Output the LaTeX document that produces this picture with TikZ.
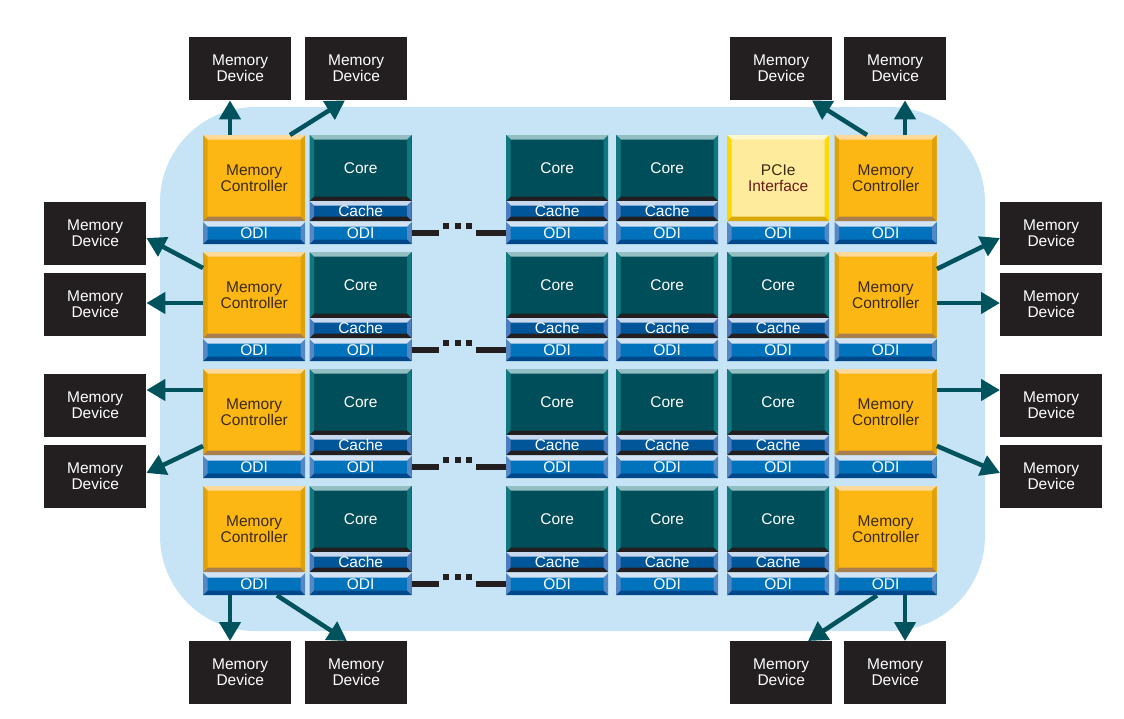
\documentclass[tikz,border=0pt]{standalone}
\usepackage{fontspec}
\setmainfont{Liberation Sans}
\usetikzlibrary{arrows.meta,positioning,calc}

\definecolor{bgBlue}{HTML}{C6E4F5}
\definecolor{devFill}{HTML}{231F20}
\definecolor{linkC}{HTML}{00535C}
\definecolor{mcFace}{HTML}{FDB714}
\definecolor{mcTop}{HTML}{FDD99B}
\definecolor{mcSide}{HTML}{DDA20B}
\definecolor{mcBot}{HTML}{A97F50}
\definecolor{mcText}{HTML}{3B2A14}
\definecolor{coreFace}{HTML}{004E59}
\definecolor{coreTop}{HTML}{93BEC2}
\definecolor{coreSide}{HTML}{127880}
\definecolor{cacheFace}{HTML}{005699}
\definecolor{cacheTop}{HTML}{C8D8EE}
\definecolor{cacheSide}{HTML}{4A7CBF}
\definecolor{odiFace}{HTML}{0073BC}
\definecolor{odiTop}{HTML}{D3E3F4}
\definecolor{odiSide}{HTML}{5687C5}
\definecolor{odiBot}{HTML}{00488A}
\definecolor{pcieFace}{HTML}{FEEB9B}
\definecolor{pcieTop}{HTML}{FFF7CC}
\definecolor{pcieSide}{HTML}{FFD700}
\definecolor{pcieBot}{HTML}{D9A90C}
\definecolor{pcieRed}{HTML}{6B1A1A}

\def\bevw{4.5pt}

\begin{document}
\begin{tikzpicture}[
    x=1pt, y=-1pt,
    every node/.style={font=\fontsize{15.5}{16}\selectfont},
    bevel/.style n args={5}{anchor=north west, inner sep=0pt, align=center, fill=#1,
        path picture={
            \def\pp{path picture bounding box}
            \fill[#2] (\pp.north west) -- (\pp.north east) -- ([xshift=-\bevw,yshift=-\bevw]\pp.north east) -- ([xshift=\bevw,yshift=-\bevw]\pp.north west) -- cycle;
            \fill[#3] (\pp.north west) -- (\pp.south west) -- ([xshift=\bevw,yshift=\bevw]\pp.south west) -- ([xshift=\bevw,yshift=-\bevw]\pp.north west) -- cycle;
            \fill[#4] (\pp.north east) -- (\pp.south east) -- ([xshift=-\bevw,yshift=\bevw]\pp.south east) -- ([xshift=-\bevw,yshift=-\bevw]\pp.north east) -- cycle;
            \fill[#5] (\pp.south west) -- (\pp.south east) -- ([xshift=-\bevw,yshift=\bevw]\pp.south east) -- ([xshift=\bevw,yshift=\bevw]\pp.south west) -- cycle;
        }},
    mcbox/.style={bevel={mcFace}{mcTop}{mcSide}{mcSide}{mcBot}, minimum width=102pt, minimum height=86pt, text=mcText},
    pciebox/.style={bevel={pcieFace}{pcieTop}{pcieSide}{pcieSide}{pcieBot}, minimum width=102pt, minimum height=86pt, text=mcText},
    corebox/.style={bevel={coreFace}{coreTop}{coreSide}{coreSide}{devFill}, minimum width=102pt, minimum height=66pt, text=white},
    cachebox/.style={bevel={cacheFace}{cacheTop}{cacheSide}{cacheSide}{devFill}, minimum width=102pt, minimum height=20pt, text=white},
    odibox/.style={bevel={odiFace}{odiTop}{odiSide}{odiSide}{odiBot}, minimum width=102pt, minimum height=22pt, text=white},
    dev/.style={anchor=north west, fill=devFill, text=white, align=center, inner sep=0pt, minimum width=102pt, minimum height=63pt},
    link/.style={draw=linkC, line width=4.5pt, -{Triangle[width=21pt,length=19pt]}},
    bar/.style={draw=devFill, line width=6pt},
]
\useasboundingbox (0,0) rectangle (1124,718);

% Chip outline
\fill[bgBlue, rounded corners=95pt] (160,107) rectangle (985,631);

% Tile rows
\foreach \r/\t in {1/135,2/252,3/369,4/486} {
    % memory controllers
    \node[mcbox] (t\r1) at (203,\t) {Memory\\Controller};
    \node[mcbox] (t\r6) at (834.5,\t) {Memory\\Controller};
    % cores and caches
    \foreach \c/\x in {2/309.5,3/506,4/616,5/727} {
        \ifnum\r\c=15 \else
            \node[corebox] (t\r\c) at (\x,\t) {Core};
            \node[cachebox] (k\r\c) at (\x,\t+66) {Cache};
        \fi
    }
    % ODI strip
    \foreach \c/\x in {1/203,2/309.5,3/506,4/616,5/727,6/834.5} {
        \node[odibox] (o\r\c) at (\x,\t+87) {ODI};
    }
    % elided columns
    \draw[bar] (o\r2.east) -- ++(27,0);
    \draw[bar] (o\r3.west) -- ++(-30,0);
    \foreach \d in {446,458,469} {
        \fill[devFill] (\d-3,\t+88) rectangle (\d+3,\t+94);
    }
}

% PCIe
\node[pciebox] (t15) at (727,135) {PCIe\\\textcolor{pcieRed}{Interface}};

% Memory devices
\node[dev] (devT1) at (189,37) {Memory\\Device};
\node[dev] (devT2) at (305,37) {Memory\\Device};
\node[dev] (devT3) at (730,37) {Memory\\Device};
\node[dev] (devT4) at (844,37) {Memory\\Device};
\node[dev] (devB1) at (189,641) {Memory\\Device};
\node[dev] (devB2) at (305,641) {Memory\\Device};
\node[dev] (devB3) at (730,641) {Memory\\Device};
\node[dev] (devB4) at (844,641) {Memory\\Device};
\node[dev] (devL1) at (44,202) {Memory\\Device};
\node[dev] (devL2) at (44,273) {Memory\\Device};
\node[dev] (devL3) at (44,374) {Memory\\Device};
\node[dev] (devL4) at (44,445) {Memory\\Device};
\node[dev] (devR1) at (1000,202) {Memory\\Device};
\node[dev] (devR2) at (1000,273) {Memory\\Device};
\node[dev] (devR3) at (1000,374) {Memory\\Device};
\node[dev] (devR4) at (1000,445) {Memory\\Device};

% Links to memory
\draw[link] ($(t11.north west)+(27,0)$) -- ($(devT1.south west)+(41,0)$);
\draw[link] ($(t11.north west)+(87,0)$) -- ($(devT2.south west)+(40,0)$);
\draw[link] ($(t16.north west)+(32.5,0)$) -- ($(devT3.south west)+(82,0)$);
\draw[link] ($(t16.north west)+(70.5,0)$) -- ($(devT4.south west)+(61,0)$);

\draw[link] ($(t21.north west)+(0,16)$) -- ($(devL1.north east)+(0,36)$);
\draw[link] ($(t21.north west)+(0,51)$) -- ($(devL2.north east)+(0,30)$);
\draw[link] ($(t31.north west)+(0,21)$) -- ($(devL3.north east)+(0,16)$);
\draw[link] ($(t31.north west)+(0,77)$) -- ($(devL4.north east)+(0,28)$);

\draw[link] ($(t26.north east)+(0,17)$) -- ($(devR1.north west)+(0,36)$);
\draw[link] ($(t26.north east)+(0,51)$) -- ($(devR2.north west)+(0,30)$);
\draw[link] ($(t36.north east)+(0,21)$) -- ($(devR3.north west)+(0,16)$);
\draw[link] ($(t36.north east)+(0,77)$) -- ($(devR4.north west)+(0,28)$);

\draw[link] ($(o41.south west)+(27,0)$) -- ($(devB1.north west)+(41,0)$);
\draw[link] ($(o41.south west)+(74,0)$) -- ($(devB2.north west)+(42,0)$);
\draw[link] ($(o46.south west)+(42.5,0)$) -- ($(devB3.north west)+(78,0)$);
\draw[link] ($(o46.south west)+(70.5,0)$) -- ($(devB4.north west)+(61,0)$);

\end{tikzpicture}
\end{document}
